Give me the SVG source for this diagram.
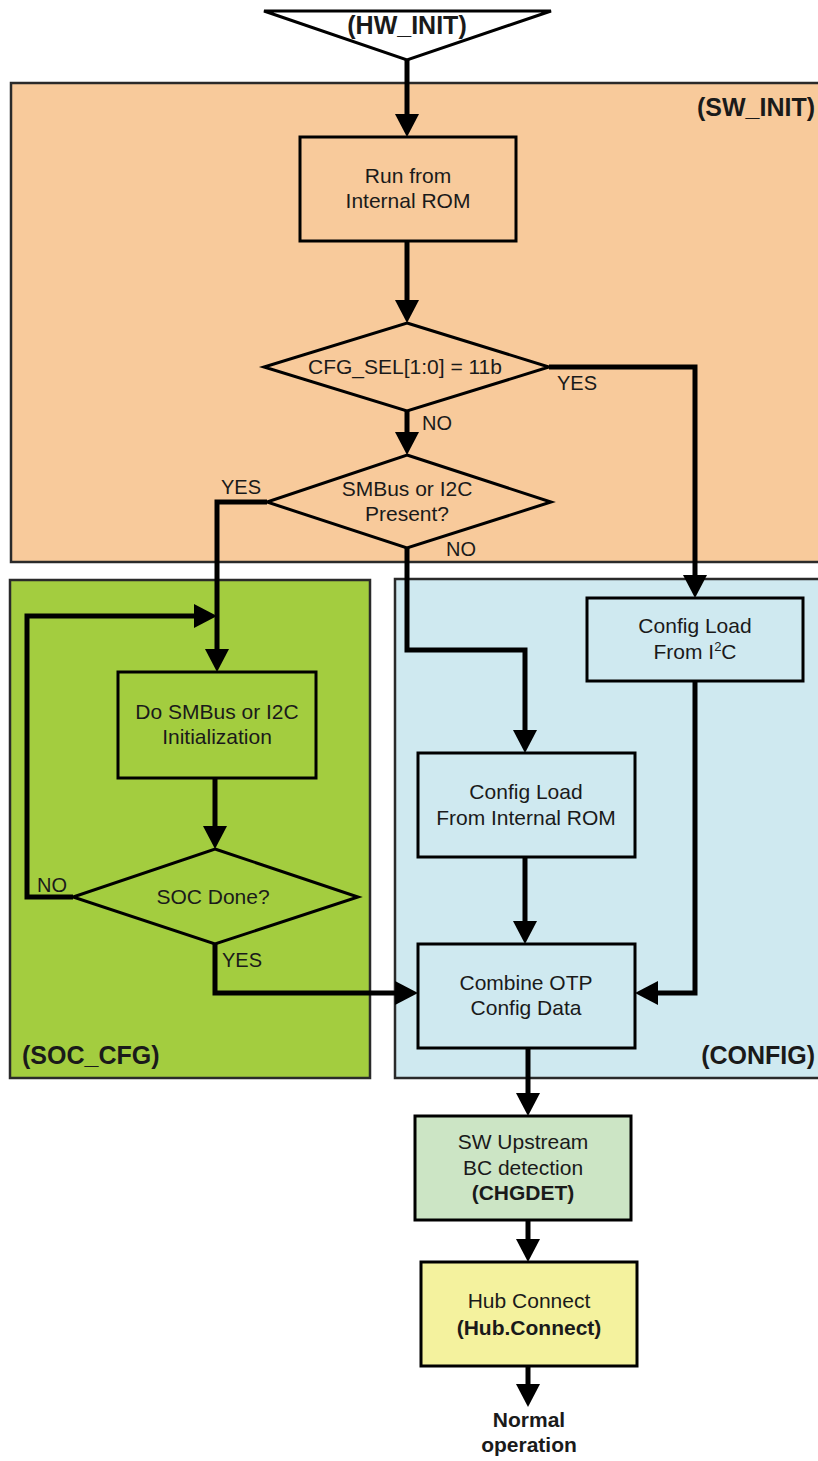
<svg xmlns="http://www.w3.org/2000/svg" width="818" height="1461" viewBox="0 0 818 1461">
<style>
.t{font-family:"Liberation Sans",Arial,sans-serif;font-size:21px;fill:#1a1a1a;text-anchor:middle}
.b{font-weight:bold}
.h{font-family:"Liberation Sans",Arial,sans-serif;font-size:25px;font-weight:bold;fill:#1a1a1a}
.l{font-family:"Liberation Sans",Arial,sans-serif;font-size:20px;fill:#1a1a1a}
.node{stroke:#000;stroke-width:3}
.cont{stroke:#2a2a2a;stroke-width:2.5}
.c{fill:none;stroke:#000;stroke-width:5;stroke-linejoin:miter;marker-end:url(#ah)}
</style>
<defs>
<marker id="ah" markerUnits="userSpaceOnUse" markerWidth="24" markerHeight="24" refX="0" refY="12" orient="auto" viewBox="0 0 24 24">
<path d="M0,0 L23,12 L0,24 z" fill="#000"/>
</marker>
</defs>
<rect width="818" height="1461" fill="#fff"/>

<g id="sw_init_region">
<rect class="cont" x="11" y="83" width="820" height="479" fill="#F8CA9B"/>
<text class="h" x="815" y="116" text-anchor="end">(SW_INIT)</text>
</g>
<g id="soc_cfg_region">
<rect class="cont" x="10" y="580" width="360" height="498" fill="#A3CD3F"/>
<text class="h" x="22" y="1064">(SOC_CFG)</text>
</g>
<g id="config_region">
<rect class="cont" x="395" y="579" width="440" height="499" fill="#CFE9F0"/>
<text class="h" x="815" y="1064" text-anchor="end">(CONFIG)</text>
</g>

<g id="connectors">
<path class="c" d="M407,60 V114"/>
<path class="c" d="M407,241 V300"/>
<path class="c" d="M407,411 V432"/>
<path class="c" d="M549,367 H695 V575"/>
<path class="c" d="M267,502 H217 V649"/>
<path class="c" d="M407,548 V650 H525 V730"/>
<path class="c" d="M215,778 V826"/>
<path class="c" d="M73,897 H27 V616 H194"/>
<path class="c" d="M215,944 V993 H395"/>
<path class="c" d="M525,857 V921"/>
<path class="c" d="M695,681 V993 H658"/>
<path class="c" d="M528,1048 V1093"/>
<path class="c" d="M528,1220 V1239"/>
<path class="c" d="M528,1366 V1384"/>
<text class="l" x="557" y="390">YES</text>
<text class="l" x="422" y="430">NO</text>
<text class="l" x="221" y="494">YES</text>
<text class="l" x="446" y="556">NO</text>
<text class="l" x="37" y="892">NO</text>
<text class="l" x="222" y="967">YES</text>
</g>

<g id="hw_init">
<polygon class="node" points="264,11 551,11 407,60" fill="#fff"/>
<text class="t b" x="407" y="34" style="font-size:25px">(HW_INIT)</text>
</g>
<g id="run_rom">
<rect class="node" x="300" y="137" width="216" height="104" fill="#F8CA9B"/>
<text class="t" x="408" y="183">Run from</text>
<text class="t" x="408" y="208">Internal ROM</text>
</g>
<g id="cfg_sel">
<polygon class="node" points="407,323 549,367 407,411 264,367" fill="#F8CA9B"/>
<text class="t" x="405" y="374">CFG_SEL[1:0] = 11b</text>
</g>
<g id="smbus_present">
<polygon class="node" points="407,455 551,502 407,548 267,502" fill="#F8CA9B"/>
<text class="t" x="407" y="496">SMBus or I2C</text>
<text class="t" x="407" y="521">Present?</text>
</g>
<g id="do_smbus">
<rect class="node" x="118" y="672" width="198" height="106" fill="#A3CD3F"/>
<text class="t" x="217" y="719">Do SMBus or I2C</text>
<text class="t" x="217" y="744">Initialization</text>
</g>
<g id="soc_done">
<polygon class="node" points="215,849 358,897 215,944 73,897" fill="#A3CD3F"/>
<text class="t" x="213" y="904">SOC Done?</text>
</g>
<g id="cfg_i2c">
<rect class="node" x="587" y="598" width="216" height="83" fill="#CFE9F0"/>
<text class="t" x="695" y="633">Config Load</text>
<text class="t" x="695" y="659">From I<tspan font-size="13" dy="-8">2</tspan><tspan dy="8">C</tspan></text>
</g>
<g id="cfg_rom">
<rect class="node" x="418" y="753" width="217" height="104" fill="#CFE9F0"/>
<text class="t" x="526" y="799">Config Load</text>
<text class="t" x="526" y="825">From Internal ROM</text>
</g>
<g id="combine">
<rect class="node" x="418" y="944" width="217" height="104" fill="#CFE9F0"/>
<text class="t" x="526" y="990">Combine OTP</text>
<text class="t" x="526" y="1015">Config Data</text>
</g>
<g id="chgdet">
<rect class="node" x="415" y="1116" width="216" height="104" fill="#CCE5C5"/>
<text class="t" x="523" y="1149">SW Upstream</text>
<text class="t" x="523" y="1175">BC detection</text>
<text class="t b" x="523" y="1200">(CHGDET)</text>
</g>
<g id="hub_connect">
<rect class="node" x="421" y="1262" width="216" height="104" fill="#F4F29E"/>
<text class="t" x="529" y="1308">Hub Connect</text>
<text class="t b" x="529" y="1335">(Hub.Connect)</text>
</g>
<g id="normal_op">
<text class="t b" x="529" y="1427">Normal</text>
<text class="t b" x="529" y="1452">operation</text>
</g>
</svg>
